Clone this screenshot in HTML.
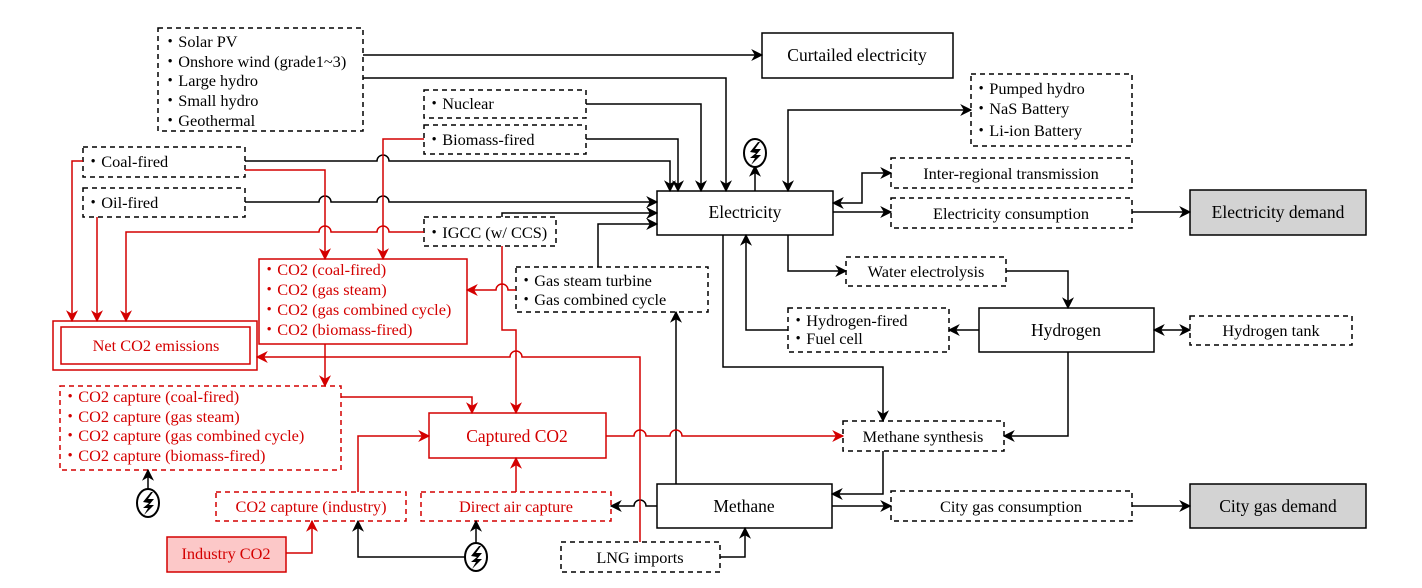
<!DOCTYPE html>
<html><head><meta charset="utf-8"><style>
html,body{margin:0;padding:0;background:#fff;}
svg{display:block;font-family:"Liberation Serif",serif;}
text{font-size:16.3px;}
</style></head><body>
<svg width="1422" height="588" viewBox="0 0 1422 588" xmlns="http://www.w3.org/2000/svg">
<defs>
<marker id="ab" viewBox="0 0 10 10" refX="9" refY="5" markerWidth="12" markerHeight="12" orient="auto-start-reverse" markerUnits="userSpaceOnUse"><path d="M0,0 L10,5 L0,10 L3,5 z" fill="#000"/></marker>
<marker id="ar" viewBox="0 0 10 10" refX="9" refY="5" markerWidth="12" markerHeight="12" orient="auto-start-reverse" markerUnits="userSpaceOnUse"><path d="M0,0 L10,5 L0,10 L3,5 z" fill="#d40000"/></marker>
<g id="pw"><ellipse cx="0" cy="0" rx="11" ry="14" fill="#fff" stroke="#000" stroke-width="2"/><path d="M3,-11 L-5,-1 L1,0 L-5,5 L0,5 L-4,12 L6,2 L1,2 L6,-4 L0,-4 L5,-11 z" fill="#000"/></g>
</defs>
<g fill="none" stroke-width="1.5">
<g stroke="#000" stroke-dasharray="5,4">
<rect x="158" y="28" width="205" height="103"/>
<rect x="424" y="90" width="162" height="28"/>
<rect x="424" y="125" width="162" height="29"/>
<rect x="971" y="74" width="161" height="72"/>
<rect x="83" y="147" width="162" height="30"/>
<rect x="83" y="188" width="162" height="29"/>
<rect x="891" y="158" width="241" height="30"/>
<rect x="891" y="198" width="241" height="30"/>
<rect x="424" y="217" width="132" height="29"/>
<rect x="516" y="267" width="192" height="45"/>
<rect x="846" y="257" width="160" height="29"/>
<rect x="788" y="308" width="161" height="44"/>
<rect x="1190" y="316" width="162" height="29"/>
<rect x="843" y="421" width="161" height="30"/>
<rect x="891" y="491" width="241" height="30"/>
<rect x="561" y="542" width="159" height="30"/>
</g>
<g stroke="#000">
<rect x="762" y="33" width="191" height="45"/>
<rect x="657" y="191" width="176" height="44"/>
<rect x="979" y="308" width="175" height="44"/>
<rect x="657" y="484" width="175" height="44"/>
<rect x="1190" y="190" width="176" height="45" fill="#d3d3d3"/>
<rect x="1190" y="484" width="176" height="44" fill="#d3d3d3"/>
</g>
<g stroke="#d40000">
<rect x="259" y="259" width="208" height="85"/>
<rect x="53" y="321" width="204" height="49"/>
<rect x="61" y="327" width="189" height="37"/>
<rect x="429" y="413" width="177" height="45"/>
<rect x="167" y="537" width="119" height="35" fill="#fcc8c8"/>
<g stroke-dasharray="5,4">
<rect x="60" y="386" width="281" height="84"/>
<rect x="216" y="492" width="190" height="29"/>
<rect x="421" y="492" width="190" height="29"/>
</g>
</g>
<g stroke="#000" marker-end="url(#ab)">
<path d="M363,55 H762"/>
<path d="M363,78 H726 V191"/>
<path d="M586,104 H701 V191"/>
<path d="M586,139 H678 V191"/>
<path d="M245,161 H377 a6,6 0 0 1 12,0 H670 V191"/>
<path d="M245,202 H319 a6,6 0 0 1 12,0 H377 a6,6 0 0 1 12,0 H657"/>
<path d="M502,217 V213 H657"/>
<path d="M598,267 V224 H657"/>
<path d="M755,191 V166"/>
<path d="M788,191 V110 H971" marker-start="url(#ab)"/>
<path d="M833,203 H862 V173 H891" marker-start="url(#ab)"/>
<path d="M833,212 H891"/>
<path d="M1132,212 H1190"/>
<path d="M788,235 V271 H846"/>
<path d="M1006,271 H1068 V308"/>
<path d="M979,330 H949"/>
<path d="M788,330 H746 V235"/>
<path d="M1154,330 H1190" marker-start="url(#ab)"/>
<path d="M723,235 V367 H883 V421"/>
<path d="M1068,352 V436 H1004"/>
<path d="M883,451 V494 H832"/>
<path d="M832,506 H891"/>
<path d="M1132,506 H1190"/>
<path d="M676,484 V312"/>
<path d="M657,506 H646 a6,6 0 0 0 -12,0 H611"/>
<path d="M720,557 H745 V528"/>
<path d="M476,543 V521"/>
<path d="M465,557 H358 V521"/>
<path d="M148,489 V470"/>
</g>
<g stroke="#d40000" marker-end="url(#ar)">
<path d="M83,161 H72 V321"/>
<path d="M97,217 V321"/>
<path d="M424,232 H389 a6,6 0 0 0 -12,0 H331 a6,6 0 0 0 -12,0 H126 V321"/>
<path d="M245,170 H325 V259"/>
<path d="M424,139 H383 V259"/>
<path d="M516,290 H508 a6,6 0 0 0 -12,0 H467"/>
<path d="M502,246 V330 H516 V413"/>
<path d="M640,542 V357 H522 a6,6 0 0 0 -12,0 H257"/>
<path d="M325,344 V386"/>
<path d="M341,397 H472 V413"/>
<path d="M358,492 V436 H429"/>
<path d="M516,492 V458"/>
<path d="M286,553 H312 V521"/>
<path d="M606,436 H634 a6,6 0 0 1 12,0 H670 a6,6 0 0 1 12,0 H843"/>
</g>
</g>
<use href="#pw" x="755" y="153"/>
<use href="#pw" x="148" y="503"/>
<use href="#pw" x="476" y="557"/>
<g fill="#000">
<text x="162" y="47">・Solar PV</text>
<text x="162" y="67">・Onshore wind (grade1~3)</text>
<text x="162" y="86">・Large hydro</text>
<text x="162" y="106">・Small hydro</text>
<text x="162" y="126">・Geothermal</text>
<text x="857" y="61" text-anchor="middle" style="font-size:17.5px">Curtailed electricity</text>
<text x="426" y="109">・Nuclear</text>
<text x="426" y="145">・Biomass-fired</text>
<text x="973" y="94">・Pumped hydro</text>
<text x="973" y="114">・NaS Battery</text>
<text x="973" y="136">・Li-ion Battery</text>
<text x="85" y="167">・Coal-fired</text>
<text x="85" y="208">・Oil-fired</text>
<text x="1011" y="179" text-anchor="middle">Inter-regional transmission</text>
<text x="1011" y="219" text-anchor="middle">Electricity consumption</text>
<text x="745" y="218" text-anchor="middle" style="font-size:17.5px">Electricity</text>
<text x="1278" y="218" text-anchor="middle" style="font-size:17.5px">Electricity demand</text>
<text x="426" y="238">・IGCC (w/ CCS)</text>
<text x="518" y="286">・Gas steam turbine</text>
<text x="518" y="305">・Gas combined cycle</text>
<text x="926" y="277" text-anchor="middle">Water electrolysis</text>
<text x="790" y="326">・Hydrogen-fired</text>
<text x="790" y="344">・Fuel cell</text>
<text x="1066" y="336" text-anchor="middle" style="font-size:17.5px">Hydrogen</text>
<text x="1271" y="336" text-anchor="middle">Hydrogen tank</text>
<text x="923" y="442" text-anchor="middle">Methane synthesis</text>
<text x="744" y="512" text-anchor="middle" style="font-size:17.5px">Methane</text>
<text x="1011" y="512" text-anchor="middle">City gas consumption</text>
<text x="1278" y="512" text-anchor="middle" style="font-size:17.5px">City gas demand</text>
<text x="640" y="563" text-anchor="middle">LNG imports</text>
</g>
<g fill="#d40000">
<text x="261" y="275">・CO2 (coal-fired)</text>
<text x="261" y="295">・CO2 (gas steam)</text>
<text x="261" y="315">・CO2 (gas combined cycle)</text>
<text x="261" y="335">・CO2 (biomass-fired)</text>
<text x="156" y="351" text-anchor="middle">Net CO2 emissions</text>
<text x="62" y="402">・CO2 capture (coal-fired)</text>
<text x="62" y="422">・CO2 capture (gas steam)</text>
<text x="62" y="441">・CO2 capture (gas combined cycle)</text>
<text x="62" y="461">・CO2 capture (biomass-fired)</text>
<text x="517" y="442" text-anchor="middle" style="font-size:17.5px">Captured CO2</text>
<text x="311" y="512" text-anchor="middle">CO2 capture (industry)</text>
<text x="516" y="512" text-anchor="middle">Direct air capture</text>
<text x="226" y="559" text-anchor="middle">Industry CO2</text>
</g>
</svg>
</body></html>
